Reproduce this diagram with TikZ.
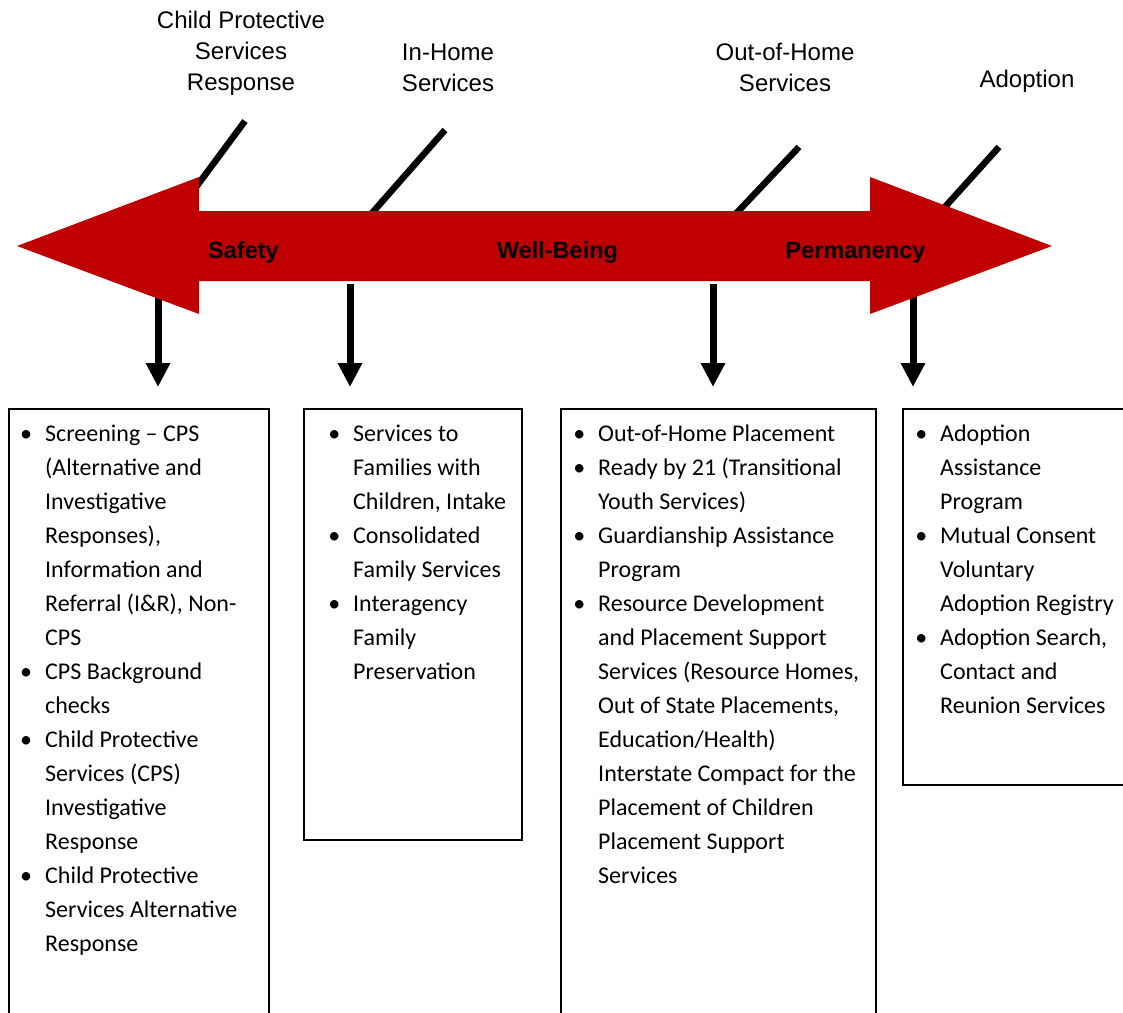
\documentclass[tikz,border=0pt]{standalone}
\usepackage{fontspec}
\setmainfont{Carlito}
\newfontfamily\arialf{Liberation Sans}
\usetikzlibrary{arrows.meta}
\definecolor{arrowred}{HTML}{C00000}
\newcommand{\bul}{\llap{\textbullet\hspace{13pt}}}
\begin{document}
\begin{tikzpicture}[x=1pt,y=-1pt,
  listbox/.style={draw=black, line width=1.5pt, anchor=north west, inner sep=0pt, outer sep=0pt, minimum width=#1},
  listtext/.style={anchor=north west, inner sep=0pt, align=left, font=\fontsize{24}{34}\selectfont},
  heading/.style={inner sep=0pt, align=center, font=\arialf\fontsize{24}{31}\selectfont},
  goal/.style={inner sep=0pt, anchor=base, font=\arialf\bfseries\fontsize{23.5}{28}\selectfont},
  diag/.style={line width=6.5pt},
  darr/.style={line width=7pt, -{Triangle[width=23pt,length=24pt]}, shorten >=22pt}]
\clip (0,0) rectangle (1123,1012);
\fill[white] (0,0) rectangle (1123,1012);

% boxes
\node[listbox=260pt, minimum height=640pt] (b1) at (9,409) {};
\node[listbox=218pt, minimum height=431pt] (b2) at (304,409) {};
\node[listbox=315pt, minimum height=640pt] (b3) at (561,409) {};
\node[listbox=260pt, minimum height=376pt] (b4) at (903,409) {};

% diagonal connectors (behind the big arrow)
\coordinate (d1a) at (245,121); \coordinate (d1b) at (185,202);
\coordinate (d2a) at (445,130); \coordinate (d2b) at (365,221);
\coordinate (d3a) at (799,147); \coordinate (d3b) at (729,221);
\coordinate (d4a) at (999,147); \coordinate (d4b) at (935,218);
\draw[diag] (d1a) -- (d1b);
\draw[diag] (d2a) -- (d2b);
\draw[diag] (d3a) -- (d3b);
\draw[diag] (d4a) -- (d4b);

% down arrows
\coordinate (s1) at (158,290);
\coordinate (s2) at (350,284);
\coordinate (s3) at (713,284);
\coordinate (s4) at (913,290);
\draw[darr] (s1) -- (s1 |- b1.north);
\draw[darr] (s2) -- (s2 |- b2.north);
\draw[darr] (s3) -- (s3 |- b3.north);
\draw[darr] (s4) -- (s4 |- b4.north);

% big double arrow
\fill[arrowred] (17,246) -- (199,177) -- (199,211) -- (870,211) -- (870,177)
  -- (1052,246) -- (870,314) -- (870,281) -- (199,281) -- (199,314) -- cycle;

\node[goal] (g1) at (243.5,258) {Safety};
\node[goal] (g2) at (557.5,258) {Well-Being};
\node[goal] (g3) at (855.5,258) {Permanency};

% headings
\node[heading, anchor=north] (h1) at (241,6.3) {\strut Child Protective\\Services\\Response};
\node[heading, anchor=north] (h2) at (448,38.3) {\strut In-Home\\Services};
\node[heading, anchor=north] (h3) at (785,38.3) {\strut Out-of-Home\\Services};
\node[heading, anchor=base] (h4) at (1027,87) {Adoption};

% lists
\node[listtext] (t1) at (45,417.2) {\strut\bul Screening – CPS\\
(Alternative and\\
Investigative\\
Responses),\\
Information and\\
Referral (I\&R), Non-\\
CPS\\
\bul CPS Background\\
checks\\
\bul Child Protective\\
Services (CPS)\\
Investigative\\
Response\\
\bul Child Protective\\
Services Alternative\\
Response};

\node[listtext] (t2) at (353,417.2) {\strut\bul Services to\\
Families with\\
Children, Intake\\
\bul Consolidated\\
Family Services\\
\bul Interagency\\
Family\\
Preservation};

\node[listtext] (t3) at (598,417.2) {\strut\bul Out-of-Home Placement\\
\bul Ready by 21 (Transitional\\
Youth Services)\\
\bul Guardianship Assistance\\
Program\\
\bul Resource Development\\
and Placement Support\\
Services (Resource Homes,\\
Out of State Placements,\\
Education/Health)\\
Interstate Compact for the\\
Placement of Children\\
Placement Support\\
Services};

\node[listtext] (t4) at (940,417.2) {\strut\bul Adoption\\
Assistance\\
Program\\
\bul Mutual Consent\\
Voluntary\\
Adoption Registry\\
\bul Adoption Search,\\
Contact and\\
Reunion Services};
\end{tikzpicture}
\end{document}
